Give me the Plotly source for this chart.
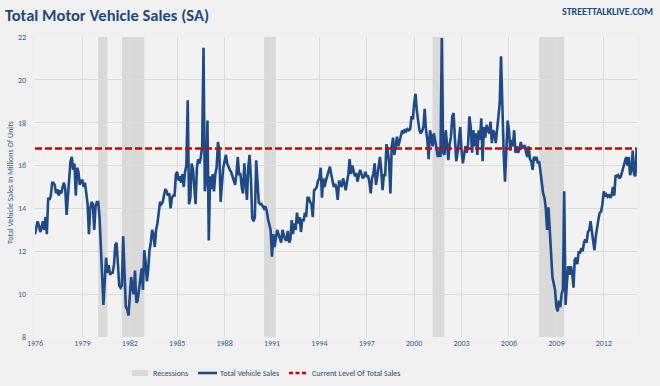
import pandas as pd
import plotly.graph_objects as go

# ---------------- data ----------------
start_month = "1976-01-01"
sales = [
    # 1976
    12.8, 13.1, 13.4, 13.2, 12.9, 13.1, 13.4, 13.0, 13.6, 12.8, 14.5, 14.4,
    # 1977
    14.6, 15.2, 15.2, 15.1, 14.7, 14.9, 14.6, 14.85, 14.7, 15.0, 15.2, 14.9,
    # 1978
    13.7, 14.6, 15.4, 16.2, 16.4, 15.8, 16.1, 14.6, 15.9, 15.7, 15.1, 15.3,
    # 1979
    15.3, 15.0, 15.2, 14.6, 14.2, 12.8, 14.0, 14.3, 14.2, 13.0, 14.1, 14.3,
    # 1980
    14.3, 13.6, 12.4, 10.9, 9.5, 10.6, 11.7, 11.0, 11.35, 10.9, 11.0, 11.0,
    # 1981
    11.4, 12.3, 12.4, 11.4, 10.4, 10.3, 10.4, 12.7, 10.9, 9.4, 9.3, 9.0,
    # 1982
    9.9, 10.8, 10.3, 10.0, 11.1, 9.6, 9.7, 10.2, 10.7, 11.2, 10.2, 12.05,
    # 1983
    11.5, 10.6, 11.1, 12.05, 12.4, 13.0, 12.8, 12.2, 13.0, 13.3, 13.8, 14.3,
    # 1984
    14.2, 14.3, 14.6, 14.9, 14.8, 14.6, 14.7, 14.0, 14.5, 14.6, 14.6, 15.6,
    # 1985
    15.7, 15.3, 15.5, 15.2, 15.6, 15.0, 15.7, 16.0, 19.05, 14.2, 14.5, 16.1,
    # 1986
    15.8, 15.0, 14.2, 15.9, 16.3, 16.1, 16.4, 16.9, 21.5, 14.8, 15.4, 18.1,
    # 1987
    12.5, 15.5, 14.9, 15.6, 14.8, 15.6, 15.9, 17.1, 16.7, 14.3, 15.1, 15.9,
    # 1988
    16.2, 16.5, 16.1, 15.9, 15.8, 15.7, 15.5, 15.3, 15.1, 15.6, 16.4, 15.6,
    # 1989
    15.6, 15.0, 14.7, 16.1, 15.4, 14.4, 15.9, 16.5, 15.4, 13.55, 13.4, 13.6,
    # 1990
    16.25, 15.0, 14.3, 14.2, 14.2, 14.1, 14.0, 14.1, 13.9, 13.5, 13.3, 13.0,
    # 1991
    11.75, 12.8, 12.2, 12.6, 13.0, 12.8, 12.6, 12.4, 13.0, 12.8, 12.55, 12.5,
    # 1992
    12.95, 12.4, 12.55, 13.45, 12.8, 13.3, 13.0, 13.8, 13.3, 13.6, 12.9, 13.5,
    # 1993
    13.4, 13.8, 13.6, 14.5, 14.5, 14.3, 14.2, 13.6, 14.85, 14.9, 15.0, 15.3,
    # 1994
    15.4, 15.9, 14.5, 15.4, 15.0, 15.3, 15.5, 15.8, 15.95, 15.6, 15.3, 15.0,
    # 1995
    15.15, 14.9, 14.4, 15.3, 15.15, 15.0, 15.4, 15.2, 14.85, 15.25, 15.6, 16.3,
    # 1996
    15.6, 16.0, 15.8, 15.5, 15.65, 15.25, 15.55, 15.8, 15.6, 15.4, 15.5, 15.7,
    # 1997
    15.5, 15.5, 15.25, 14.7, 15.4, 15.6, 16.1, 15.1, 15.5, 16.0, 16.4, 15.8,
    # 1998
    14.85, 15.6, 15.5, 17.0, 16.7, 16.1, 14.7, 16.9, 17.3, 16.5, 17.0, 17.35,
    # 1999
    16.9, 17.2, 17.4, 17.65, 17.5, 17.7, 17.6, 17.7, 17.65, 17.7, 18.3, 18.15,
    # 2000
    18.9, 19.35, 18.6, 18.0, 17.65, 17.5, 17.6, 17.8, 18.65, 17.65, 17.2, 16.3,
    # 2001
    17.65, 17.35, 16.9, 17.5, 17.2, 16.8, 16.4, 16.7, 16.4, 21.95, 16.6, 16.5,
    # 2002
    17.65, 16.7, 16.25, 17.0, 17.35, 18.3, 18.45, 17.2, 16.2, 16.6, 17.2, 17.8,
    # 2003
    16.7, 16.1, 16.5, 16.9, 16.6, 17.0, 18.3, 17.8, 16.6, 17.65, 16.9, 17.5,
    # 2004
    16.5, 17.65, 17.2, 18.2, 16.2, 17.8, 17.3, 17.9, 17.65, 17.5, 18.05, 17.05,
    # 2005
    17.65, 17.5, 17.05, 17.8, 18.1, 18.9, 21.1, 18.4, 16.6, 15.25, 16.9, 18.1,
    # 2006
    17.65, 16.7, 17.2, 16.9, 17.65, 16.6, 16.9, 16.6, 16.75, 17.1, 16.8, 16.9,
    # 2007
    16.95, 16.6, 16.4, 16.9, 16.3, 16.2, 15.8, 16.4, 16.3, 16.4, 16.1, 16.2,
    # 2008
    15.65, 15.2, 14.7, 14.5, 14.0, 13.0, 14.05, 13.0, 12.0, 10.8, 10.5, 10.2,
    # 2009
    9.4, 9.2, 9.7, 9.4, 10.0, 10.2, 14.8, 9.5, 10.5, 11.3, 10.9, 11.3,
    # 2010
    11.0, 10.3, 11.6, 11.7, 11.4, 12.0, 11.9, 12.15, 12.0, 12.4, 12.55, 12.4,
    # 2011
    12.9, 13.0, 13.4, 13.0, 12.4, 12.05, 12.7, 13.2, 13.5, 13.8, 13.85, 14.2,
    # 2012
    14.8, 14.55, 14.65, 14.55, 14.65, 14.5, 14.6, 15.0, 14.6, 15.55, 15.5, 15.55,
    # 2013
    15.4, 15.5, 15.7, 15.95, 16.2, 16.4, 16.0, 16.4, 15.55, 15.8, 16.7, 15.6,
    # 2014
    15.5, 16.8,
]
current_level = 16.8

recession_start = ["1980-01-01", "1981-07-01", "1990-07-01", "2001-03-01", "2007-12-01"]
recession_end = ["1980-07-31", "1982-11-30", "1991-03-31", "2001-11-30", "2009-06-30"]

tick_years = [1976, 1979, 1982, 1985, 1988, 1991, 1994, 1997, 2000, 2003, 2006, 2009, 2012]
y_ticks = [8, 10, 12, 14, 16, 18, 20, 22]

months = pd.date_range(start_month, periods=len(sales), freq="MS")

# ---------------- styling ----------------
NAVY = "#1F497D"
LINE = "#1F4A87"
RED = "#D40000"
FONT = "Carlito, 'Liberation Sans Narrow', Lato, sans-serif"

W, H = 660, 386
L, R, T, B = 35, 23, 37, 49
PW, PH = W - L - R, H - T - B


def px(x):
    return (x - L) / PW


def py(y):
    return (H - B - y) / PH


fig = go.Figure()

fig.add_trace(go.Scatter(
    x=months, y=sales, mode="lines", name="Total Vehicle Sales",
    line=dict(color=LINE, width=2.6), showlegend=False, hoverinfo="skip",
))
fig.add_trace(go.Scatter(
    x=months, y=[current_level] * len(months), mode="lines",
    name="Current Level Of Total Sales",
    line=dict(color=RED, width=2.5, dash="7px,3px"), showlegend=False, hoverinfo="skip",
))

shapes = []
for s, e in zip(recession_start, recession_end):
    shapes.append(dict(type="rect", xref="x", yref="paper", x0=s, x1=e, y0=0, y1=1,
                       fillcolor="#D9D9D9", line=dict(width=0), layer="between"))

# custom legend
ly = py(373)
shapes.append(dict(type="rect", xref="paper", yref="paper", x0=px(132), x1=px(148),
                   y0=py(376), y1=py(370), fillcolor="#D9D9D9", line=dict(width=0)))
shapes.append(dict(type="line", xref="paper", yref="paper", x0=px(198), x1=px(217),
                   y0=ly, y1=ly, line=dict(color=LINE, width=2.5)))
shapes.append(dict(type="line", xref="paper", yref="paper", x0=px(289), x1=px(306),
                   y0=ly, y1=ly, line=dict(color=RED, width=2.5, dash="4px,2.5px")))

annotations = [
    dict(text="Recessions", x=px(151), y=ly, xref="paper", yref="paper",
         xanchor="left", yanchor="middle", showarrow=False,
         font=dict(family=FONT, size=8, color=NAVY)),
    dict(text="Total Vehicle Sales", x=px(218), y=ly, xref="paper", yref="paper",
         xanchor="left", yanchor="middle", showarrow=False,
         font=dict(family=FONT, size=8, color=NAVY)),
    dict(text="Current Level Of Total Sales", x=px(310), y=ly, xref="paper", yref="paper",
         xanchor="left", yanchor="middle", showarrow=False,
         font=dict(family=FONT, size=8, color=NAVY)),
    dict(text="Total Motor Vehicle Sales (SA)", x=px(3), y=py(15), xref="paper", yref="paper",
         xanchor="left", yanchor="middle", showarrow=False,
         font=dict(family=FONT, size=16.5, color=NAVY, weight="bold")),
    dict(text="STREETTALKLIVE.COM", x=px(655), y=py(11), xref="paper", yref="paper",
         xanchor="right", yanchor="middle", showarrow=False,
         font=dict(family=FONT, size=10, color=NAVY, weight="bold")),
    dict(text="Total Vehicle Sales In Millions Of Units", x=px(10), y=py(183),
         xref="paper", yref="paper", xanchor="center", yanchor="middle",
         textangle=-90, showarrow=False,
         font=dict(family=FONT, size=8, color="#2F5A96")),
]

fig.update_layout(
    width=W, height=H,
    margin=dict(l=L, r=R, t=T, b=B),
    paper_bgcolor="#F0F0F0",
    plot_bgcolor="#F2F2F2",
    shapes=shapes,
    annotations=annotations,
    showlegend=False,
    xaxis=dict(
        type="date",
        range=["1976-01-01", "2014-02-08"],
        tickvals=[f"{y}-01-01" for y in tick_years],
        ticktext=[str(y) for y in tick_years],
        showgrid=True, gridcolor="#DCDCDC", gridwidth=1,
        zeroline=False, showline=False, ticks="",
        tickfont=dict(family=FONT, size=8, color="#34609A"),
    ),
    yaxis=dict(
        range=[8, 22],
        tickvals=y_ticks,
        showgrid=True, gridcolor="#DCDCDC", gridwidth=1,
        zeroline=False, showline=False, ticks="",
        ticklabelstandoff=8,
        tickfont=dict(family=FONT, size=8, color="#34609A"),
    ),
)

fig.write_html("out.html", config={"displayModeBar": False},
               post_script="document.body.style.margin='0px';")
